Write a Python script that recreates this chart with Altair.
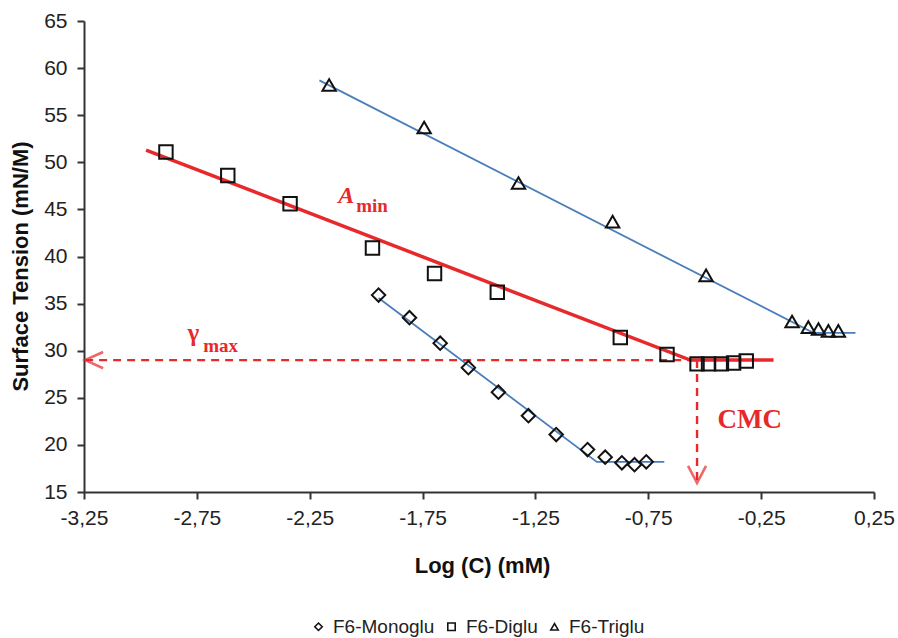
import altair as alt
import pandas as pd

# Surface tension (mN/M) against log concentration (mM) for the three surfactants
mono_logc = [-1.945, -1.808, -1.672, -1.547, -1.414, -1.281, -1.158, -1.019, -0.941, -0.867, -0.811, -0.759]
mono_st = [35.9, 33.5, 30.8, 28.2, 25.6, 23.1, 21.1, 19.5, 18.7, 18.1, 17.9, 18.2]

di_logc = [-2.887, -2.613, -2.337, -1.972, -1.697, -1.419, -0.874, -0.667, -0.534, -0.483, -0.426, -0.372, -0.316]
di_st = [51.1, 48.6, 45.6, 40.9, 38.2, 36.2, 31.4, 29.6, 28.6, 28.6, 28.6, 28.7, 28.9]

tri_logc = [-2.164, -1.743, -1.325, -0.908, -0.494, -0.113, -0.041, 0.004, 0.048, 0.092]
tri_st = [58.2, 53.7, 47.8, 43.7, 38.0, 33.1, 32.5, 32.3, 32.1, 32.1]

series_names = ["F6-Monoglu", "F6-Diglu", "F6-Triglu"]

# Two-segment fits: linear decrease then plateau after the CMC
mono_fit_logc = [-1.945, -0.978, -0.679]
mono_fit_st = [35.6, 18.2, 18.2]
di_fit_logc = [-2.975, -0.564, -0.195]
di_fit_st = [51.3, 29.0, 29.0]
tri_fit_logc = [-2.207, -0.019, 0.168]
tri_fit_st = [58.7, 31.9, 31.9]

# Plateau tension and CMC read-offs
gamma_max = 29.0
cmc_logc = -0.534
x_ticks = [-3.25, -2.75, -2.25, -1.75, -1.25, -0.75, -0.25, 0.25]
y_ticks = [15, 20, 25, 30, 35, 40, 45, 50, 55, 60, 65]

RED = "#e8292b"
BLUE = "#4a7ebb"

points = pd.concat([
    pd.DataFrame({"logc": mono_logc, "st": mono_st, "series": series_names[0]}),
    pd.DataFrame({"logc": di_logc, "st": di_st, "series": series_names[1]}),
    pd.DataFrame({"logc": tri_logc, "st": tri_st, "series": series_names[2]}),
])

blue_fits = pd.concat([
    pd.DataFrame({"logc": mono_fit_logc, "st": mono_fit_st, "series": series_names[0], "o": range(3)}),
    pd.DataFrame({"logc": tri_fit_logc, "st": tri_fit_st, "series": series_names[2], "o": range(3)}),
])
red_fit = pd.DataFrame({"logc": di_fit_logc, "st": di_fit_st, "o": range(3)})

x_scale = alt.Scale(domain=[-3.25, 0.25], nice=False, zero=False)
y_scale = alt.Scale(domain=[15, 65], nice=False, zero=False)

x_axis = alt.Axis(
    values=x_ticks,
    # decimal comma and a plain hyphen for the sign
    labelExpr="(datum.value < 0 ? '-' : '') + replace(format(abs(datum.value), '.2f'), '.', ',')",
    title="Log (C) (mM)",
    titleX=398, titleY=73, titleAlign="center", titleBaseline="middle",
    labelFlush=False, labelOverlap=False, labelPadding=8,
)
y_axis = alt.Axis(
    values=y_ticks,
    title="Surface Tension (mN/M)",
    titleX=-64, titleY=245, titleAlign="center", titleBaseline="middle", titleAngle=-90,
    labelFlush=False, labelOverlap=False, labelPadding=10,
)

X = alt.X("logc:Q", scale=x_scale, axis=x_axis)
Y = alt.Y("st:Q", scale=y_scale, axis=y_axis)

blue_lines = alt.Chart(blue_fits).mark_line(color=BLUE, strokeWidth=1.8).encode(
    x=X, y=Y, detail="series:N", order="o:Q"
)
red_line = alt.Chart(red_fit).mark_line(color=RED, strokeWidth=3.5).encode(
    x=X, y=Y, order="o:Q"
)

# Dashed guides from the break point to the axes
h_guide = alt.Chart(pd.DataFrame({"x1": [-3.245], "x2": [cmc_logc], "y": [gamma_max]})).mark_rule(
    color=RED, strokeWidth=2.4, strokeDash=[8, 6]
).encode(x=alt.X("x1:Q", scale=x_scale), x2="x2:Q", y=alt.Y("y:Q", scale=y_scale))

v_guide = alt.Chart(pd.DataFrame({"x": [cmc_logc], "y1": [gamma_max], "y2": [15.95]})).mark_rule(
    color=RED, strokeWidth=2.4, strokeDash=[8, 6]
).encode(x=alt.X("x:Q", scale=x_scale), y=alt.Y("y1:Q", scale=y_scale), y2="y2:Q")

left_head = alt.Chart(pd.DataFrame({"x": [-3.245], "y": [gamma_max]})).mark_point(
    shape="M 1 -0.45 L 0 0 L 1 0.45", size=1296, filled=False, color=RED, strokeWidth=2.6
).encode(x=alt.X("x:Q", scale=x_scale), y=alt.Y("y:Q", scale=y_scale))

down_head = alt.Chart(pd.DataFrame({"x": [cmc_logc], "y": [15.95]})).mark_point(
    shape="M -0.5 -0.95 L 0 0 L 0.5 -0.95", size=1296, filled=False, color=RED, strokeWidth=2.6
).encode(x=alt.X("x:Q", scale=x_scale), y=alt.Y("y:Q", scale=y_scale))

markers = alt.Chart(points).mark_point(filled=False, color="#111111", size=180, strokeWidth=2, opacity=1).encode(
    x=X, y=Y,
    shape=alt.Shape(
        "series:N",
        scale=alt.Scale(domain=series_names, range=["diamond", "square", "triangle-up"]),
        legend=alt.Legend(
            title=None, orient="none", direction="horizontal",
            legendX=225, legendY=596,
            labelFont="Liberation Sans", labelFontSize=19, labelColor="#222222",
            symbolSize=55, symbolStrokeWidth=1.6, symbolStrokeColor="#111111",
            symbolFillColor="white", labelOffset=5, columnPadding=7, padding=0,
        ),
    ),
)

def label(x, y, text, size, style="normal", align="left", baseline="alphabetic"):
    return alt.Chart(pd.DataFrame({"x": [x], "y": [y], "t": [text]})).mark_text(
        font="Liberation Serif", fontSize=size, fontWeight="bold", fontStyle=style,
        color=RED, align=align, baseline=baseline,
    ).encode(x=alt.X("x:Q", scale=x_scale), y=alt.Y("y:Q", scale=y_scale), text="t:N")

labels = [
    label(-2.124, 45.67, "A", 24, style="italic"),
    label(-2.044, 44.71, "min", 19),
    label(-2.792, 31.0, "γ", 25),
    label(-2.722, 29.84, "max", 19),
    label(-0.300, 21.77, "CMC", 27, align="center"),
]

chart = alt.layer(
    blue_lines, red_line, h_guide, v_guide, left_head, down_head, markers, *labels
).properties(
    width=790, height=471,
    padding={"left": 84, "top": 21, "right": 24, "bottom": 146},
    autosize=alt.AutoSizeParams(type="none"),
).configure_view(stroke=None).configure_axis(
    grid=False,
    domainColor="#333333", domainWidth=2,
    tickColor="#333333", tickWidth=2, tickSize=7,
    labelFont="Liberation Sans", labelFontSize=21, labelColor="#222222",
    titleFont="Liberation Sans", titleFontSize=22, titleFontWeight="bold", titleColor="#111111",
)

chart.save("out.html", embed_options={"renderer": "svg", "actions": False})
